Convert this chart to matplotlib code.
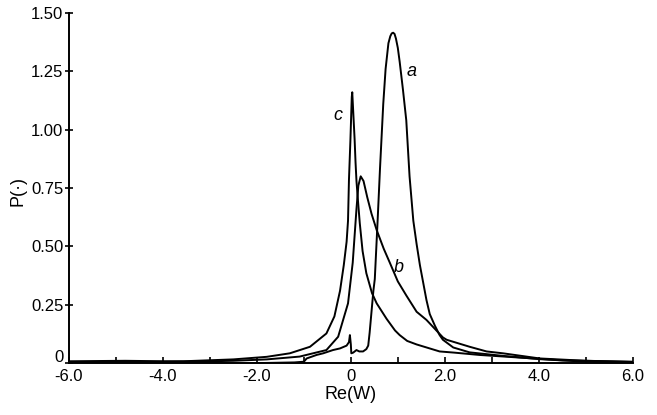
import matplotlib
matplotlib.use("Agg")
import matplotlib.pyplot as plt
import matplotlib.transforms as mtransforms
from matplotlib.ticker import MultipleLocator, FixedLocator

plt.rcParams['font.family'] = ['Liberation Sans', 'DejaVu Sans']

# ── Curve a : tall peak near Re(W)=0.9, noisy foot around 0 ────────────────
a_re = [-6.0, -2.0, -1.2, -1.0, -0.94, -0.73, -0.59, -0.38, -0.23, -0.09,
        -0.04, -0.02, 0.0, 0.01, 0.05, 0.12, 0.18, 0.26, 0.33, 0.37, 0.40,
        0.44, 0.48, 0.51, 0.57, 0.62, 0.69, 0.74, 0.80, 0.84, 0.87, 0.90,
        0.93, 0.96, 1.00, 1.04, 1.11, 1.18, 1.25, 1.33, 1.40, 1.47, 1.61,
        1.68, 1.79, 1.89, 1.96, 2.18, 2.53, 3.24, 4.02, 5.0, 5.7, 6.0]
a_p = [0.0, 0.0, 0.003, 0.006, 0.02, 0.035, 0.042, 0.056, 0.063, 0.075,
       0.09, 0.12, 0.08, 0.042, 0.045, 0.056, 0.05, 0.05, 0.06, 0.075, 0.13,
       0.22, 0.31, 0.36, 0.61, 0.83, 1.11, 1.26, 1.37, 1.40, 1.412, 1.415,
       1.41, 1.39, 1.35, 1.29, 1.17, 1.04, 0.80, 0.61, 0.51, 0.42, 0.27,
       0.21, 0.16, 0.12, 0.10, 0.067, 0.046, 0.031, 0.017, 0.006, 0.003,
       0.002]

# ── Curve b : broad peak near Re(W)=0.2 ─────────────────────────────────────
b_re = [-6.0, -5.0, -4.0, -3.0, -2.5, -1.79, -1.09, -0.52, -0.27, -0.06,
        0.04, 0.12, 0.16, 0.21, 0.27, 0.35, 0.44, 0.55, 0.70, 0.83, 1.0,
        1.18, 1.40, 1.61, 1.96, 2.04, 2.53, 2.89, 3.24, 4.02, 5.0, 6.0]
b_p = [0.004, 0.005, 0.006, 0.008, 0.01, 0.016, 0.028, 0.056, 0.113, 0.256,
       0.43, 0.66, 0.76, 0.80, 0.78, 0.71, 0.64, 0.57, 0.49, 0.43, 0.35,
       0.29, 0.22, 0.185, 0.11, 0.10, 0.07, 0.05, 0.042, 0.02, 0.01, 0.006]

# ── Curve c : narrow spike near Re(W)=0 ─────────────────────────────────────
c_re = [-6.0, -4.8, -4.0, -3.56, -2.5, -1.79, -1.30, -0.87, -0.52, -0.35,
        -0.23, -0.15, -0.09, -0.06, -0.04, -0.01, 0.02, 0.03, 0.05, 0.08,
        0.10, 0.12, 0.15, 0.19, 0.25, 0.33, 0.45, 0.55, 0.76, 0.94, 1.04,
        1.20, 1.40, 1.89, 2.2, 2.74, 3.5, 4.5, 5.0, 6.0]
c_p = [0.008, 0.01, 0.008, 0.008, 0.016, 0.027, 0.042, 0.07, 0.127, 0.20,
       0.31, 0.42, 0.52, 0.61, 0.785, 0.95, 1.14, 1.16, 1.08, 0.96, 0.86,
       0.78, 0.70, 0.60, 0.48, 0.385, 0.30, 0.256, 0.19, 0.14, 0.12, 0.095,
       0.08, 0.05, 0.045, 0.035, 0.025, 0.012, 0.01, 0.005]

curve_labels = ["a", "b", "c"]
label_pos = [(1.30, 1.25), (1.03, 0.41), (-0.28, 1.06)]

x_ticks = [-6.0, -4.0, -2.0, 0.0, 2.0, 4.0, 6.0]
x_ticklabels = ["-6.0", "-4.0", "-2.0", "0", "2.0", "4.0", "6.0"]
y_ticks = [0.0, 0.25, 0.50, 0.75, 1.00, 1.25, 1.50]
y_ticklabels = ["0", "0.25", "0.50", "0.75", "1.00", "1.25", "1.50"]

fig = plt.figure(figsize=(6.57, 4.15), dpi=100)
ax = fig.add_axes([0.105, 0.125, 0.858, 0.844])

for xs, ys in [(a_re, a_p), (b_re, b_p), (c_re, c_p)]:
    ax.plot(xs, ys, color="black", lw=1.4, solid_joinstyle="round")

for name, (tx, ty) in zip(curve_labels, label_pos):
    ax.text(tx, ty, name, fontsize=13, style="italic", ha="center", va="center")

ax.set_xlim(-6.0, 6.0)
ax.set_ylim(0.0, 1.5)
ax.spines["top"].set_visible(False)
ax.spines["right"].set_visible(False)
ax.spines["left"].set_linewidth(1.4)
ax.spines["bottom"].set_linewidth(1.4)

ax.xaxis.set_major_locator(FixedLocator(x_ticks))
ax.set_xticklabels(x_ticklabels)
ax.xaxis.set_minor_locator(MultipleLocator(1.0))
ax.set_yticks(y_ticks)
ax.set_yticklabels(y_ticklabels)

ax.tick_params(axis="x", direction="in", length=4, width=1.2, labelsize=12, pad=4)
ax.tick_params(axis="x", which="minor", direction="in", length=4, width=1.2)
ax.tick_params(axis="y", direction="inout", length=6, width=1.2, labelsize=12, pad=1)

# lift the "0" on the y axis so it sits above the "-6.0" like the original
zero_lbl = ax.get_yticklabels()[0]
zero_lbl.set_transform(zero_lbl.get_transform() +
                       mtransforms.ScaledTranslation(0, 5 / 72, fig.dpi_scale_trans))

ax.set_xlabel("Re(W)", fontsize=13, labelpad=2)
fig.text(0.028, 0.54, "P(·)", rotation=90, fontsize=13, ha="center", va="center")

fig.savefig("out.png", dpi=100)
